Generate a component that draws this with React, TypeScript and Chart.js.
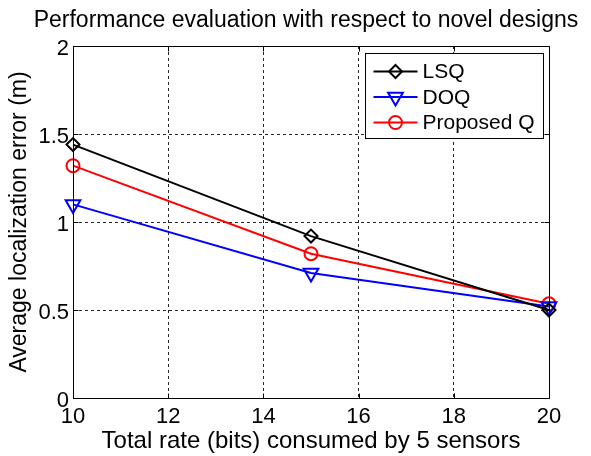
import React, { useEffect, useRef } from 'react';
import { Chart, registerables } from 'chart.js';

Chart.register(...registerables);

const titleText = 'Performance evaluation with respect to novel designs';
const xTitle = 'Total rate (bits) consumed by 5 sensors';
const yTitle = 'Average localization error (m)';
const xValues = [10, 15, 20];
const lsqValues = [1.44, 0.92, 0.5];
const doqValues = [1.1, 0.71, 0.52];
const proposedValues = [1.32, 0.82, 0.535];
const seriesNames = ['LSQ', 'DOQ', 'Proposed Q'];
const seriesColors = ['#000000', '#0000ff', '#ff0000'];
const xTicks = [10, 12, 14, 16, 18, 20];
const yTicks = [0, 0.5, 1, 1.5, 2];

const FONT = '"Liberation Sans", Arial, Helvetica, sans-serif';

function drawMarker(ctx: CanvasRenderingContext2D, kind: number, x: number, y: number, color: string) {
  ctx.save();
  ctx.strokeStyle = color;
  ctx.lineWidth = 2;
  ctx.beginPath();
  if (kind === 0) {
    const r = 6.5;
    ctx.moveTo(x, y - r);
    ctx.lineTo(x + r, y);
    ctx.lineTo(x, y + r);
    ctx.lineTo(x - r, y);
    ctx.closePath();
  } else if (kind === 1) {
    const r = 8.5;
    const w = r * Math.sqrt(3) / 2;
    ctx.moveTo(x, y + r);
    ctx.lineTo(x + w, y - r / 2);
    ctx.lineTo(x - w, y - r / 2);
    ctx.closePath();
  } else {
    ctx.arc(x, y, 6.5, 0, Math.PI * 2);
  }
  ctx.stroke();
  ctx.restore();
}

const framePlugin = {
  id: 'matlabFrame',
  afterDatasetsDraw(chart: any) {
    const { ctx, chartArea: a, scales } = chart;
    ctx.save();
    const L = Math.round(a.left) + 0.5;
    const R = Math.round(a.right) + 0.5;
    const T = Math.round(a.top) + 0.5;
    const B = Math.round(a.bottom) + 0.5;
    ctx.strokeStyle = '#000';
    ctx.lineWidth = 1;
    ctx.beginPath();
    ctx.rect(L, T, R - L, B - T);
    ctx.stroke();
    ctx.beginPath();
    for (const v of xTicks) {
      const px = Math.round(scales.x.getPixelForValue(v)) + 0.5;
      ctx.moveTo(px, B); ctx.lineTo(px, B - 5);
      ctx.moveTo(px, T); ctx.lineTo(px, T + 5);
    }
    for (const v of yTicks) {
      const py = Math.round(scales.y.getPixelForValue(v)) + 0.5;
      ctx.moveTo(L, py); ctx.lineTo(L + 5, py);
      ctx.moveTo(R, py); ctx.lineTo(R - 5, py);
    }
    ctx.stroke();

    // title, centred a little right of the canvas centre like the original
    ctx.fillStyle = '#000';
    ctx.font = `23px ${FONT}`;
    ctx.textAlign = 'center';
    ctx.textBaseline = 'middle';
    ctx.fillText(titleText, 306, 21);

    // legend
    const bw = 178, bh = 85;
    const bx = Math.round(a.right - 6 - bw) + 0.5;
    const by = Math.round(a.top + 7) + 0.5;
    ctx.fillStyle = '#ffffff';
    ctx.fillRect(bx, by, bw, bh);
    ctx.strokeStyle = '#000';
    ctx.lineWidth = 1;
    ctx.strokeRect(bx, by, bw, bh);
    ctx.font = `21px ${FONT}`;
    ctx.textBaseline = 'middle';
    ctx.textAlign = 'left';
    seriesNames.forEach((name, i) => {
      const y = by + 18 + i * 25.5;
      const x0 = bx + 8;
      ctx.strokeStyle = seriesColors[i];
      ctx.lineWidth = 2;
      ctx.beginPath();
      ctx.moveTo(x0, y);
      ctx.lineTo(x0 + 44, y);
      ctx.stroke();
      drawMarker(ctx, i, x0 + 22, y, seriesColors[i]);
      ctx.fillStyle = '#000';
      ctx.fillText(name, x0 + 49, y + 1);
    });
    ctx.restore();
  },
};

export default function App() {
  const ref = useRef<HTMLCanvasElement>(null);
  useEffect(() => {
    if (!ref.current) return;
    const mk = (vals: number[]) => xValues.map((x, i) => ({ x, y: vals[i] }));
    const gridCfg = {
      color: 'rgba(0,0,0,0.85)',
      lineWidth: 1,
      drawTicks: false,
    };
    const chart = new Chart(ref.current, {
      type: 'line',
      data: {
        datasets: [
          {
            label: seriesNames[0],
            data: mk(lsqValues),
            borderColor: seriesColors[0],
            backgroundColor: 'transparent',
            borderWidth: 2,
            pointStyle: 'rectRot',
            pointRadius: 6.5,
            pointBorderWidth: 2,
            pointBackgroundColor: 'transparent',
            clip: false,
          },
          {
            label: seriesNames[1],
            data: mk(doqValues),
            borderColor: seriesColors[1],
            backgroundColor: 'transparent',
            borderWidth: 2,
            pointStyle: 'triangle',
            pointRotation: 180,
            pointRadius: 8.5,
            pointBorderWidth: 2,
            pointBackgroundColor: 'transparent',
            clip: false,
          },
          {
            label: seriesNames[2],
            data: mk(proposedValues),
            borderColor: seriesColors[2],
            backgroundColor: 'transparent',
            borderWidth: 2,
            pointStyle: 'circle',
            pointRadius: 6.5,
            pointBorderWidth: 2,
            pointBackgroundColor: 'transparent',
            clip: false,
          },
        ],
      },
      options: {
        animation: false,
        responsive: false,
        maintainAspectRatio: false,
        layout: { padding: { left: 0, right: 42, top: 46, bottom: 0 } },
        plugins: {
          legend: { display: false },
          tooltip: { enabled: false },
          title: { display: false },
        },
        scales: {
          x: {
            type: 'linear',
            min: 10,
            max: 20,
            afterBuildTicks: (s: any) => { s.ticks = xTicks.map((v) => ({ value: v })); },
            afterFit: (s: any) => { s.height = 58; },
            grid: { ...gridCfg },
            border: { display: false, dash: [3, 3] },
            ticks: {
              color: '#000',
              font: { family: FONT, size: 22 },
              padding: 6,
              maxRotation: 0,
              autoSkip: false,
              callback: (v: any) => String(v),
            },
            title: {
              display: true,
              text: xTitle,
              color: '#000',
              font: { family: FONT, size: 24, lineHeight: 1.2 },
              padding: 0,
            },
          },
          y: {
            type: 'linear',
            min: 0,
            max: 2,
            afterBuildTicks: (s: any) => { s.ticks = yTicks.map((v) => ({ value: v })); },
            afterFit: (s: any) => { s.width = 73; },
            grid: { ...gridCfg },
            border: { display: false, dash: [3, 3] },
            ticks: {
              color: '#000',
              font: { family: FONT, size: 22 },
              padding: 4,
              labelOffset: 3,
              autoSkip: false,
              callback: (v: any) => String(v),
            },
            title: {
              display: true,
              text: yTitle,
              color: '#000',
              font: { family: FONT, size: 23, lineHeight: 1.2 },
              padding: 6,
            },
          },
        },
      },
      plugins: [framePlugin],
    } as any);
    return () => chart.destroy();
  }, []);
  return (
    <div style={{ position: 'absolute', left: 0, top: 0, width: 591, height: 456, background: '#fff' }}>
      <canvas ref={ref} width={591} height={456} style={{ display: 'block' }} />
    </div>
  );
}
